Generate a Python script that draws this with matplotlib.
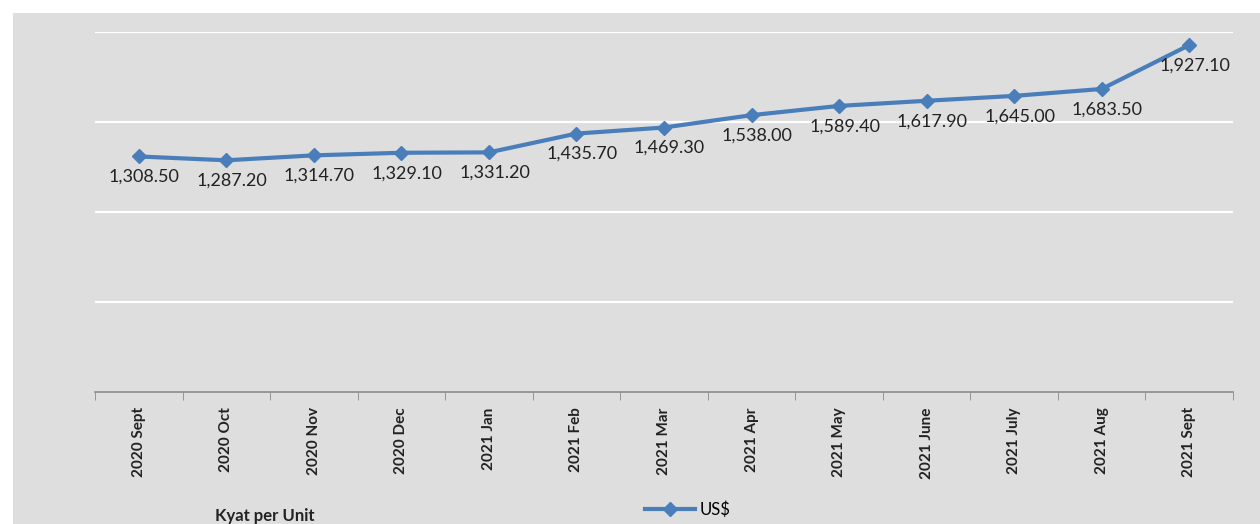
import numpy as np
import matplotlib.pyplot as plt
from matplotlib.patches import Rectangle

months = ["2020 Sept", "2020 Oct", "2020 Nov", "2020 Dec", "2021 Jan", "2021 Feb",
          "2021 Mar", "2021 Apr", "2021 May", "2021 June", "2021 July", "2021 Aug",
          "2021 Sept"]
usd = [1308.50, 1287.20, 1314.70, 1329.10, 1331.20, 1435.70, 1469.30,
       1538.00, 1589.40, 1617.90, 1645.00, 1683.50, 1927.10]
y_grid = [500, 1000, 1500, 2000]

plt.rcParams['font.family'] = ['Lato', 'DejaVu Sans']

fig = plt.figure(figsize=(12.6, 5.24), dpi=100)
fig.patch.set_facecolor("white")
# grey chart panel behind the axes
fig.patches.append(Rectangle((13 / 1260, 0), 1 - 13 / 1260, 1 - 13 / 524,
                             transform=fig.transFigure, facecolor="#dedede",
                             edgecolor="none", zorder=-5))

ax = fig.add_axes([95 / 1260, 132 / 524, (1233 - 95) / 1260, (392 - 32) / 524])
ax.set_facecolor("none")
x = np.arange(len(months))
ax.set_xlim(-0.5, len(months) - 0.5)
ax.set_ylim(0, 2000)

for g in y_grid:
    ax.axhline(g, color="white", lw=1.6, zorder=1)

ax.plot(x, usd, color="#4a7ebb", lw=3, marker="D", ms=7, zorder=3,
        label="US$")
for xi, v in zip(x, usd):
    ax.annotate(f"{v:,.2f}", (xi, v), xytext=(4, -9), textcoords="offset points",
                ha="center", va="top", fontsize=13, color="#222222")

ax.set_yticks([])
ax.set_xticks(x)
ax.set_xticklabels(months, rotation=90, fontsize=11, fontweight="bold",
                   color="#222222")
ax.tick_params(axis="x", which="major", length=0, pad=11)
ax.set_xticks(np.arange(-0.5, len(months)), minor=True)
ax.tick_params(axis="x", which="minor", length=6, color="#8a8a8a", direction="out")
for s in ["top", "right", "left"]:
    ax.spines[s].set_visible(False)
ax.spines["bottom"].set_color("#8a8a8a")
ax.spines["bottom"].set_linewidth(1.2)

fig.text(215 / 1260, 8 / 524, "Kyat per Unit", fontsize=12, fontweight="bold",
         color="#222222", va="center", ha="left")
leg = fig.legend(loc="center", bbox_to_anchor=(688 / 1260, 14 / 524), frameon=False,
                 fontsize=12, handlelength=3, handletextpad=0.3)

fig.savefig("out.png", dpi=100, facecolor=fig.get_facecolor())
